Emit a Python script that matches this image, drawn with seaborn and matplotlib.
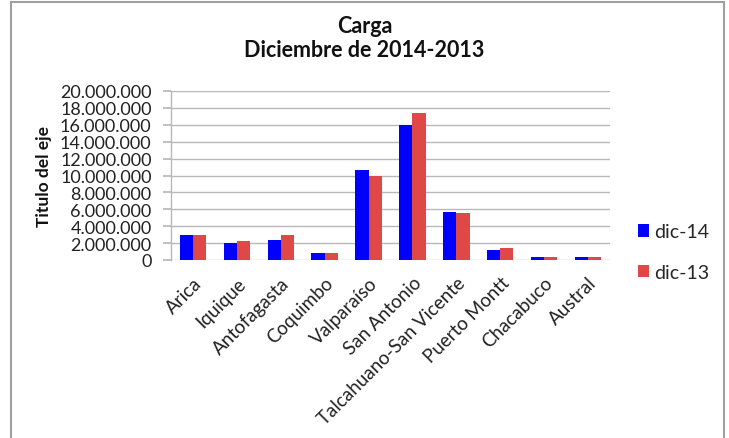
import matplotlib
matplotlib.use("Agg")
import matplotlib.pyplot as plt
import matplotlib.ticker as mticker
from matplotlib.patches import Rectangle
import seaborn as sns
import pandas as pd

puertos = ["Arica", "Iquique", "Antofagasta", "Coquimbo", "Valparaíso", "San Antonio",
           "Talcahuano-San Vicente", "Puerto Montt", "Chacabuco", "Austral"]
dic14 = [2950000, 2000000, 2400000, 800000, 10700000, 16000000, 5700000, 1150000, 300000, 300000]
dic13 = [2950000, 2260000, 2950000, 800000, 10000000, 17450000, 5550000, 1400000, 300000, 300000]
series = ["dic-14", "dic-13"]
yticks = list(range(0, 20000001, 2000000))

df = pd.DataFrame({
    "Puerto": puertos * 2,
    "Serie": [series[0]] * len(puertos) + [series[1]] * len(puertos),
    "Valor": dic14 + dic13,
})

sns.set_theme(style="white")
plt.rcParams["font.family"] = ["Lato", "DejaVu Sans"]

fig = plt.figure(figsize=(7.29, 4.39), dpi=100)
ax = fig.add_axes([171 / 729, 1 - 261 / 439, (610 - 171) / 729, (261 - 92) / 439])

sns.barplot(data=df, x="Puerto", y="Valor", hue="Serie", hue_order=series,
            palette=["#0000ff", "#e04848"], width=0.6, gap=0, saturation=1,
            edgecolor="none", ax=ax, legend=True)

ax.set_ylim(0, 20000000)
ax.set_yticks(yticks)
ax.yaxis.set_major_formatter(mticker.FuncFormatter(lambda v, p: f"{int(v):,}".replace(",", ".")))
ax.grid(axis="y", color="#b8b8b8", linewidth=1)
ax.set_axisbelow(True)
for s in ["top", "right", "bottom"]:
    ax.spines[s].set_visible(False)
ax.spines["left"].set_color("#b8b8b8")
ax.spines["left"].set_linewidth(1)
ax.tick_params(axis="y", left=True, length=6, color="#b8b8b8", labelsize=13, pad=8, labelcolor="#222222")
ax.tick_params(axis="x", bottom=False, labelsize=13.5, pad=4, labelcolor="#222222")
plt.setp(ax.get_xticklabels(), rotation=45, ha="right", rotation_mode="anchor")
ax.set_xlabel("")
ax.set_ylabel("Titulo del eje", fontsize=12.5, fontweight="bold", labelpad=6, color="#111111")

fig.text(0.5, 1 - 33 / 439, "Carga", ha="center", va="baseline", fontsize=15.5, fontweight="bold", color="#111111")
fig.text(0.5, 1 - 57 / 439, "Diciembre de 2014-2013", ha="center", va="baseline", fontsize=15.5, fontweight="bold", color="#111111")

handles, labels = ax.get_legend_handles_labels()
ax.legend(handles, labels, loc="center left", bbox_to_anchor=(620 / 729, 1 - 253 / 439),
          bbox_transform=fig.transFigure, frameon=False, fontsize=14,
          handlelength=0.6, handleheight=0.6, handletextpad=0.25, labelspacing=1.2)

fig.patches.append(Rectangle((11 / 729, -0.05), (724 - 11) / 729, 1.05 - 3 / 439,
                             transform=fig.transFigure, fill=False, edgecolor="#a0a0a0", linewidth=1.5))

fig.savefig("out.png", dpi=100)
